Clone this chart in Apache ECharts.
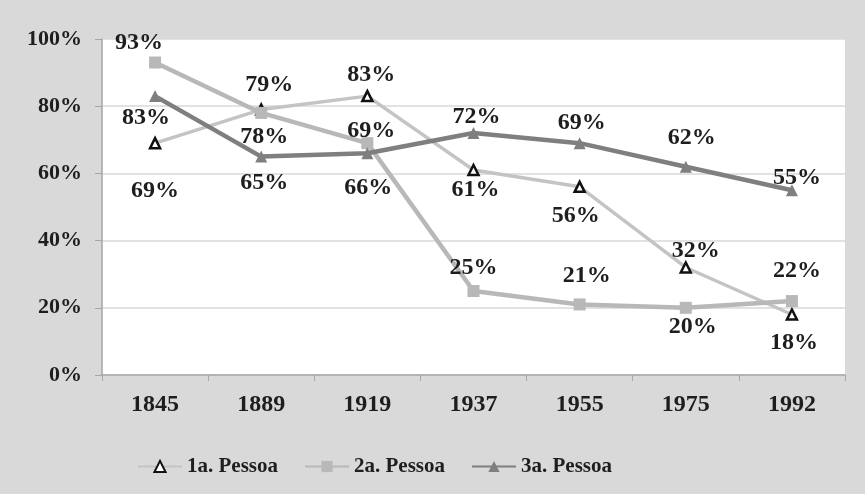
<!DOCTYPE html>
<html>
<head>
<meta charset="utf-8">
<script src="https://cdn.jsdelivr.net/npm/echarts@6/dist/echarts.min.js"></script>
<style>
  html, body { margin: 0; padding: 0; background: #d9d9d9; }
  #main { width: 865px; height: 494px; }
</style>
</head>
<body>
<div id="main"></div>
<script>
var years = ['1845', '1889', '1919', '1937', '1955', '1975', '1992'];
var yTicks = [0, 20, 40, 60, 80, 100];

var pessoa1 = [69, 79, 83, 61, 56, 32, 18];
var pessoa2 = [93, 78, 69, 25, 21, 20, 22];
var pessoa3 = [83, 65, 66, 72, 69, 62, 55];

// where each label sits relative to its point (dx, dy)
var off1 = [[0, 48], [8, -25], [4, -21], [2, 20], [-4, 29], [10, -17], [2, 28]];
var off2 = [[-16, -20], [3, 24], [4, -12], [0, -23], [7, -29], [7, 19], [5, -30]];
var off3 = [[-9, 22], [3, 26], [1, 35], [3, -16], [2, -20], [6, -29], [5, -12]];

var serif = '"Liberation Serif", "DejaVu Serif", serif';

function withLabels(values, offs) {
	return values.map(function (v, i) {
		return { value: v, label: { offset: offs[i] } };
	});
}

var labelStyle = {
	show: true,
	position: 'inside',
	formatter: '{c}%',
	fontFamily: serif,
	fontWeight: 'bold',
	fontSize: 24,
	color: '#1e1e1e'
};

var myChart = echarts.init(document.getElementById('main'));

var option = {
	backgroundColor: '#d9d9d9',
	animation: false,
	grid: {
		left: 102,
		right: 20,
		top: 39,
		bottom: 119,
		show: true,
		backgroundColor: '#ffffff',
		borderWidth: 0
	},
	legend: {
		left: 132,
		top: 451,
		itemWidth: 44,
		itemHeight: 14,
		itemGap: 26,
		textStyle: {
			fontFamily: serif,
			fontWeight: 'bold',
			fontSize: 21,
			color: '#1e1e1e'
		},
		data: ['1a. Pessoa', '2a. Pessoa', '3a. Pessoa']
	},
	xAxis: {
		type: 'category',
		data: years,
		boundaryGap: true,
		axisLine: { lineStyle: { color: '#a6a6a6', width: 1.5 } },
		axisTick: { show: true, length: 6, lineStyle: { color: '#a6a6a6' } },
		axisLabel: {
			margin: 18,
			fontFamily: serif,
			fontWeight: 'bold',
			fontSize: 24,
			color: '#1e1e1e'
		}
	},
	yAxis: {
		type: 'value',
		min: yTicks[0],
		max: yTicks[yTicks.length - 1],
		interval: 20,
		axisLine: { show: true, lineStyle: { color: '#a6a6a6', width: 1.5 } },
		axisTick: { show: true, length: 7, lineStyle: { color: '#a6a6a6' } },
		splitLine: { lineStyle: { color: '#d9d9d9', width: 1.5 } },
		axisLabel: {
			margin: 20,
			formatter: '{value}%',
			fontFamily: serif,
			fontWeight: 'bold',
			fontSize: 22,
			color: '#1e1e1e'
		}
	},
	series: [{
		name: '1a. Pessoa',
		type: 'line',
		data: withLabels(pessoa1, off1),
		symbol: 'triangle',
		symbolSize: 10,
		lineStyle: { color: '#c4c4c4', width: 3.5 },
		itemStyle: { color: '#ffffff', borderColor: '#111', borderWidth: 2.5 },
		label: labelStyle,
		z: 2
	}, {
		name: '2a. Pessoa',
		type: 'line',
		data: withLabels(pessoa2, off2),
		symbol: 'rect',
		symbolSize: 12,
		lineStyle: { color: '#b8b8b8', width: 4.5 },
		itemStyle: { color: '#b8b8b8' },
		label: labelStyle,
		z: 3
	}, {
		name: '3a. Pessoa',
		type: 'line',
		data: withLabels(pessoa3, off3),
		symbol: 'triangle',
		symbolSize: 12,
		lineStyle: { color: '#7f7f7f', width: 4.5 },
		itemStyle: { color: '#7f7f7f' },
		label: labelStyle,
		z: 4
	}]
};

myChart.setOption(option);
</script>
</body>
</html>
